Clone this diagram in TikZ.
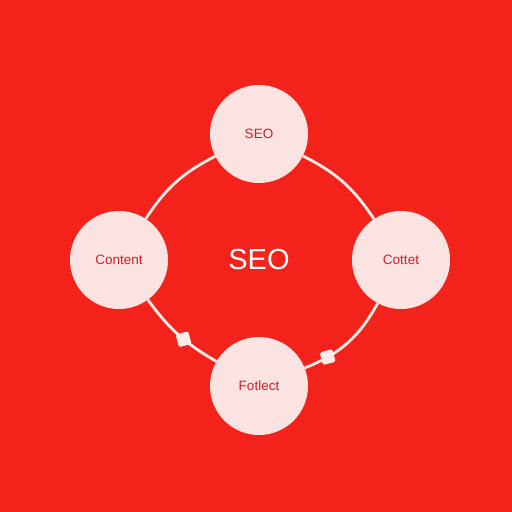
\documentclass[tikz,border=0pt]{standalone}
\usepackage{fontspec}
\setmainfont{Liberation Sans}
\usepackage{tikz}
\usetikzlibrary{positioning}
\definecolor{bgred}{RGB}{243,35,27}
\definecolor{pinkfill}{RGB}{251,227,225}
\definecolor{txtred}{RGB}{206,32,42}
\definecolor{linepink}{RGB}{255,236,232}

\begin{document}
\begin{tikzpicture}[x=1pt,y=1pt,node distance=126pt,
	bubble/.style={circle, fill=pinkfill, minimum size=98pt, inner sep=0pt, text=txtred, font=\fontsize{13.5}{15}\selectfont},
	link/.style={draw=linepink, line width=2.8pt},
	knot/.style={rectangle, fill=linepink, minimum size=13pt, inner sep=0pt, rotate=15, rounded corners=1.5pt}]
		\fill[bgred] (0,0) rectangle (512,512);
		\node (seo) at (259,252) [text=white, font=\fontsize{29}{32}\selectfont] {SEO};
		\node (top) [above of = seo, bubble] {SEO};
		\node (bot) [below of = seo, bubble] {Fotlect};
		\node (lft) [left of = seo, xshift=-14pt, bubble] {Content};
		\node (rgt) [right of = seo, xshift=16pt, bubble] {Cottet};
		\draw[link] (top) to[bend right=15] (lft);
		\draw[link] (top) to[bend left=15] (rgt);
		\draw[link] (lft) to[bend right=12] node[knot, pos=0.58]{} (bot);
		\draw[link] (rgt) to[bend left=20] node[knot, pos=0.76]{} (bot);
\end{tikzpicture}
\end{document}
